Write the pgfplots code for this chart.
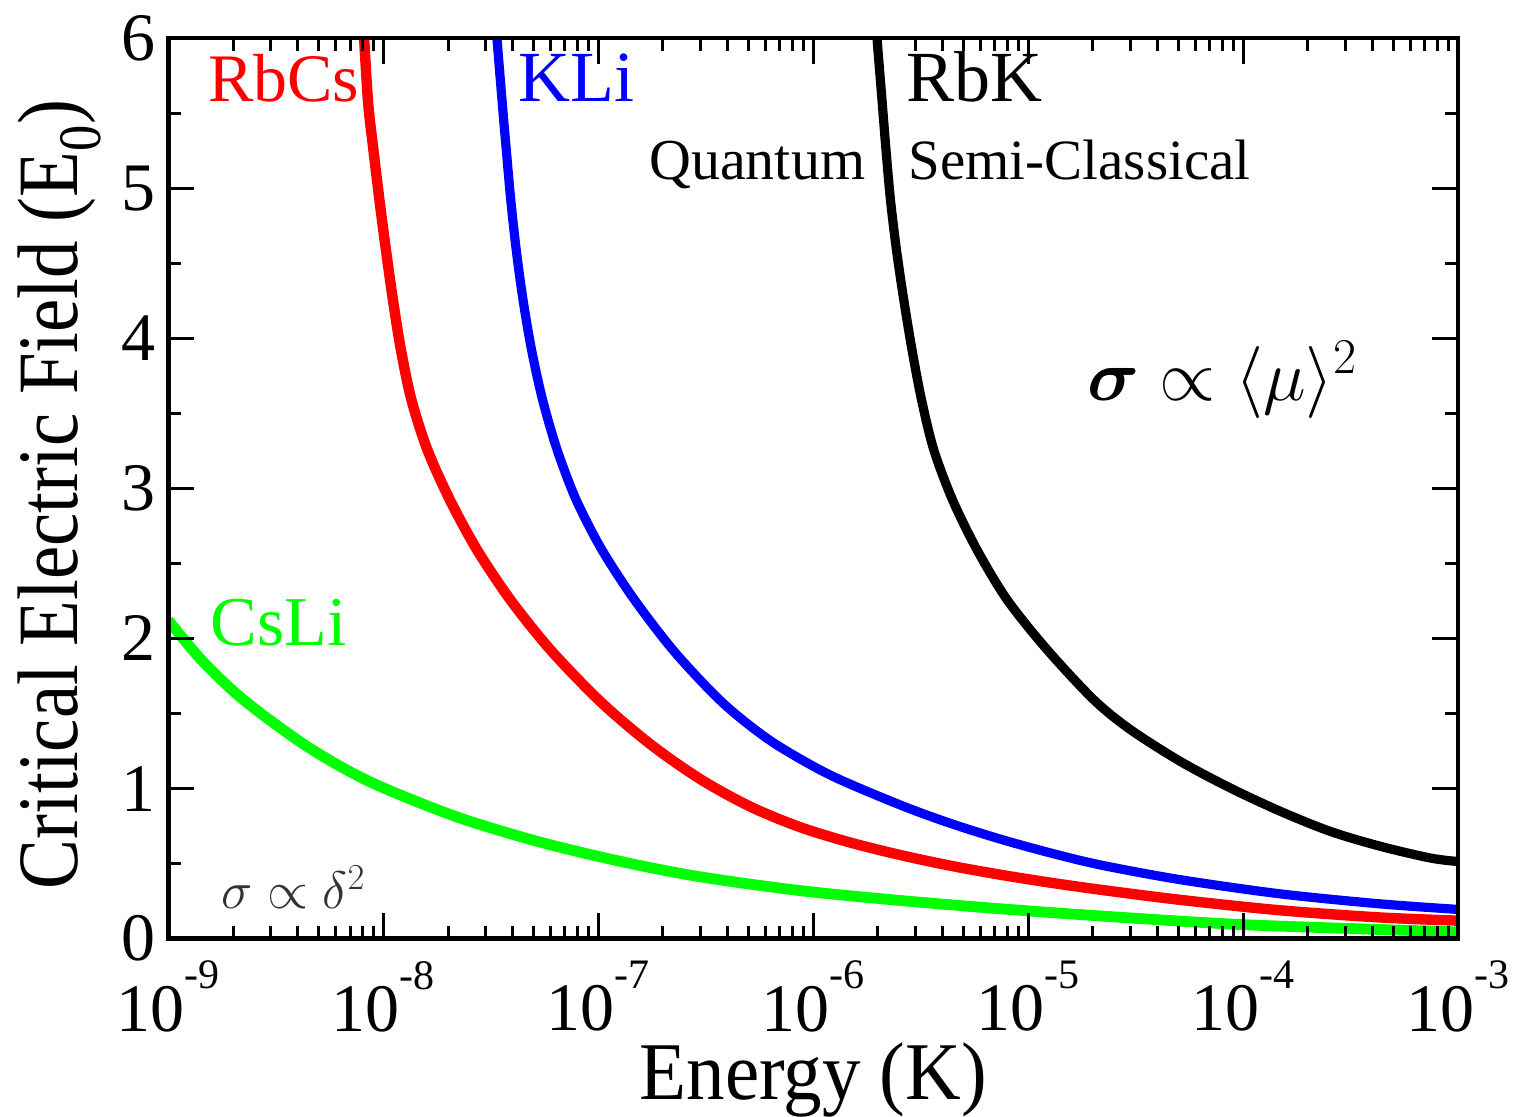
\documentclass[border=0pt]{standalone}
\usepackage{amsmath}
\usepackage{graphicx}
\usepackage{fontspec}
\setmainfont{Liberation Serif}
\newfontfamily\tnr{Liberation Serif}
\usepackage{pgfplots}
\pgfplotsset{compat=1.18}

\newcommand\ticksz{\tnr\fontsize{34}{40}\selectfont}
\newcommand\dec[1]{\mbox{\ticksz 10\raisebox{0.62em}{\tnr\fontsize{21}{21}\selectfont -#1}}}
\newcommand\yt[1]{\mbox{\ticksz #1}}

% critical field vs. collision energy, one table per molecule
\pgfplotstableread{
x y
7.99e-9 6.2
8.478e-9 5.586
8.993e-9 5.253
9.592e-9 4.92
1.0283e-8 4.587
1.1085e-8 4.254
1.2077e-8 3.921
1.3513e-8 3.589
1.6040e-8 3.256
2.0396e-8 2.923
2.729e-8 2.59
3.903e-8 2.257
5.993e-8 1.924
1.0237e-7 1.579
1.7497e-7 1.295
2.989e-7 1.062
5.106e-7 0.879
8.727e-7 0.742
1.4915e-6 0.640
2.548e-6 0.557
4.354e-6 0.486
7.439e-6 0.426
1.2713e-5 0.373
2.172e-5 0.326
5.01e-5 0.260
1.4625e-4 0.190
4.27e-4 0.142
1e-3 0.120
}\rbcs

\pgfplotstableread{
x y
3.289e-8 6.2
3.564e-8 5.589
3.732e-8 5.256
3.915e-8 4.923
4.150e-8 4.591
4.463e-8 4.258
4.889e-8 3.925
5.499e-8 3.593
6.424e-8 3.26
7.872e-8 2.927
1.0349e-7 2.595
1.4662e-7 2.262
2.2142e-7 1.927
3.399e-7 1.637
4.589e-7 1.469
6.749e-7 1.292
1.2034e-6 1.089
2.548e-6 0.890
4.354e-6 0.768
7.439e-6 0.663
1.2713e-5 0.571
2.172e-5 0.491
5.01e-5 0.395
1.462e-4 0.30
4.256e-4 0.233
1e-3 0.195
}\kli

\pgfplotstableread{
x y
1.9287e-6 6.2
2.0898e-6 5.586
2.1813e-6 5.253
2.2887e-6 4.920
2.4405e-6 4.587
2.6396e-6 4.254
2.8831e-6 3.921
3.192e-6 3.589
3.640e-6 3.256
4.448e-6 2.923
5.785e-6 2.59
7.991e-6 2.257
1.2272e-5 1.924
2.0216e-5 1.591
2.996e-5 1.392
5.118e-5 1.180
8.744e-5 1.003
1.4942e-4 0.848
2.554e-4 0.714
4.363e-4 0.615
7.456e-4 0.537
1e-3 0.514
}\rbk

\pgfplotstableread{
x y
1e-9 2.12
1.439e-9 1.85
2.254e-9 1.587
4.426e-9 1.280
8.67e-9 1.045
2.153e-8 0.816
5.28e-8 0.646
1.297e-7 0.512
2.958e-7 0.413
8.61e-7 0.321
2.512e-6 0.255
7.31e-6 0.20
1.995e-5 0.155
1.023e-4 0.093
1e-3 0.045
}\csli

\begin{document}
\begin{tikzpicture}
\begin{axis}[
  scale only axis,
  width=645pt, height=450.5pt,
  xmode=log,
  xmin=1e-9, xmax=1e-3,
  ymin=0, ymax=6,
  axis on top,
  axis line style={line width=2.2pt},
  every tick/.style={black, line width=1.5pt},
  major tick length=13pt,
  minor tick length=6.5pt,
  tick align=inside,
  xtick pos=both, ytick pos=both,
  xtick={1e-9,1e-8,1e-7,1e-6,1e-5,1e-4,1e-3},
  xticklabels={\dec{9},\dec{8},\dec{7},\dec{6},\dec{5},\dec{4},\dec{3}},
  minor xtick={2e-9,3e-9,4e-9,5e-9,6e-9,7e-9,8e-9,9e-9,
               2e-8,3e-8,4e-8,5e-8,6e-8,7e-8,8e-8,9e-8,
               2e-7,3e-7,4e-7,5e-7,6e-7,7e-7,8e-7,9e-7,
               2e-6,3e-6,4e-6,5e-6,6e-6,7e-6,8e-6,9e-6,
               2e-5,3e-5,4e-5,5e-5,6e-5,7e-5,8e-5,9e-5,
               2e-4,3e-4,4e-4,5e-4,6e-4,7e-4,8e-4,9e-4},
  ytick={0,1,2,3,4,5,6},
  yticklabels={\yt{0},\yt{1},\yt{2},\yt{3},\yt{4},\yt{5},\yt{6}},
  minor ytick={0.5,1.5,2.5,3.5,4.5,5.5},
  xticklabel style={font=\ticksz, anchor=north, inner sep=0pt, yshift=-11pt},
  yticklabel style={font=\ticksz, anchor=east, inner sep=0pt, xshift=-6.5pt},
  every axis x label/.style={at={(axis description cs:0.5,0)}, yshift=-80.5pt,
    anchor=base, inner sep=0pt},
  every axis y label/.style={at={(axis description cs:0,0.493)}, xshift=-45.5pt,
    rotate=90, anchor=base, inner sep=0pt},
  xlabel={\mbox{\tnr\fontsize{41}{46}\selectfont\scalebox{0.94}[1]{Energy (K)}}},
  ylabel={\mbox{\tnr\fontsize{43}{48}\selectfont\scalebox{0.87}[1]{Critical Electric Field (E\textsubscript{0})}}},
  clip=true,
]
\addplot[red, line width=5.2pt, smooth, line join=round] table {\rbcs};
\addplot[blue, line width=4.6pt, smooth, line join=round] table {\kli};
\addplot[black, line width=4.6pt, smooth, line join=round] table {\rbk};
\addplot[green, line width=5.4pt, smooth, line join=round] table {\csli};

\node[anchor=base west, inner sep=0pt, text=red, font=\tnr\fontsize{34}{40}\selectfont]
  at (rel axis cs:0.0306,0.930) {RbCs};
\node[anchor=base west, inner sep=0pt, text=blue, font=\tnr\fontsize{36}{40}\selectfont]
  at (rel axis cs:0.271,0.930) {KLi};
\node[anchor=base west, inner sep=0pt, text=black, font=\tnr\fontsize{36}{40}\selectfont]
  at (rel axis cs:0.572,0.930) {RbK};
\node[anchor=base west, inner sep=0pt, font=\tnr\fontsize{29}{34}\selectfont]
  at (rel axis cs:0.3726,0.8424) {Quantum};
\node[anchor=base west, inner sep=0pt, font=\tnr\fontsize{28.5}{34}\selectfont]
  at (rel axis cs:0.5737,0.8424) {Semi-Classical};
\node[anchor=base west, inner sep=0pt, text=green, font=\tnr\fontsize{35}{40}\selectfont]
  at (rel axis cs:0.0326,0.3256) {CsLi};
\node[anchor=base west, inner sep=0pt, font=\fontsize{24}{28}\selectfont]
  at (rel axis cs:0.712,0.598) {\scalebox{1.45}{$\boldsymbol{\sigma}\propto\langle\mu\rangle^{2}$}};
\node[anchor=base west, inner sep=0pt, text=black!80, font=\fontsize{24}{28}\selectfont]
  at (rel axis cs:0.0407,0.0333) {\scalebox{1.06}{$\sigma\propto\delta^{2}$}};

\coordinate (sw) at (rel axis cs:0,0);
\coordinate (ne) at (rel axis cs:1,1);
\end{axis}
\pgfresetboundingbox
\path ([xshift=-84.25pt,yshift=-89pt]sw) rectangle ([xshift=33pt,yshift=19pt]ne);
\end{tikzpicture}
\end{document}
